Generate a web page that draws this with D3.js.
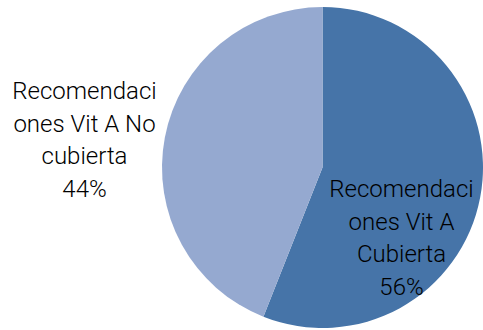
<!DOCTYPE html>
<html>
<head>
<meta charset="utf-8">
<script src="https://cdn.jsdelivr.net/npm/d3@7"></script>
<style>
  html, body { margin: 0; padding: 0; background: #fff; }
  svg { display: block; }
  text { font-family: Roboto, Lato, sans-serif; fill: #000; }
</style>
</head>
<body>
<svg id="chart" width="483" height="330"></svg>
<script>
// Vitamin A recommendation coverage
const categories = ["Recomendaciones Vit A Cubierta", "Recomendaciones Vit A No cubierta"];
const values = [56, 44];
const labelLines = [
  ["Recomendaci", "ones Vit A", "Cubierta", "56%"],
  ["Recomendaci", "ones Vit A No", "cubierta", "44%"]
];
const colors = ["#4674A8", "#95A9D0"];

const svg = d3.select("#chart");
const cx = 322.5, cy = 167.5, radius = 160.5;

const pie = d3.pie().sort(null).value(d => d.value);
const arcs = pie(categories.map((c, i) => ({ name: c, value: values[i], lines: labelLines[i] })));
const arc = d3.arc().innerRadius(0).outerRadius(radius);

const g = svg.append("g").attr("transform", `translate(${cx},${cy})`);

g.selectAll("path")
  .data(arcs)
  .join("path")
  .attr("d", arc)
  .attr("fill", (d, i) => colors[i]);

// Label anchors (relative to pie centre)
const labelPos = [[79, 29.5], [-238, -68.5]];
const fontSize = 24, lineH = 32.5;

const labels = svg.append("g")
  .selectAll("text")
  .data(arcs)
  .join("text")
  .attr("text-anchor", "middle")
  .attr("font-size", fontSize)
  .attr("font-weight", 300)
  .attr("x", (d, i) => cx + labelPos[i][0])
  .attr("y", (d, i) => cy + labelPos[i][1]);

labels.selectAll("tspan")
  .data(d => d.data.lines)
  .join("tspan")
  .attr("x", function () { return this.parentNode.getAttribute("x"); })
  .attr("dy", (d, j) => j === 0 ? 0 : lineH)
  .text(d => d);
</script>
</body>
</html>
